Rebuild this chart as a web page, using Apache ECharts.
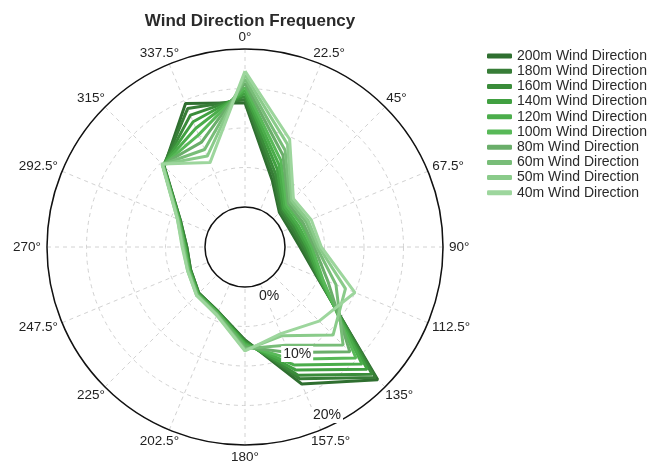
<!DOCTYPE html>
<html><head><meta charset="utf-8">
<script src="https://cdn.jsdelivr.net/npm/echarts@6/dist/echarts.min.js"></script>
<style>html,body{margin:0;padding:0;background:#fff}#c{width:653px;height:468px}</style>
</head><body><div id="c"></div>
<script>
// compass directions (degrees, clockwise from north)
const directions = [0, 22.5, 45, 67.5, 90, 112.5, 135, 157.5, 180, 202.5, 225, 247.5, 270, 292.5, 315, 337.5];
const directionLabels = ['0°', '22.5°', '45°', '67.5°', '90°', '112.5°', '135°', '157.5°', '180°', '202.5°', '225°', '247.5°', '270°', '292.5°', '315°', '337.5°'];
const seriesNames = ['200m Wind Direction', '180m Wind Direction', '160m Wind Direction', '140m Wind Direction',
  '120m Wind Direction', '100m Wind Direction', '80m Wind Direction', '60m Wind Direction',
  '50m Wind Direction', '40m Wind Direction'];
// frequency (%) per direction
const s200 = [13.2, 4.0, 1.1, 1.0, 1.9, 4.8, 18.7, 13.7, 6.7, 3.8, 3.2, 2.4, 2.3, 3.8, 9.4, 14.6];
const s180 = [13.6, 4.5, 1.3, 1.3, 2.2, 4.9, 18.3, 13.0, 6.8, 3.8, 3.2, 2.4, 2.3, 3.8, 9.5, 13.9];
const s160 = [14.0, 5.0, 1.6, 1.6, 2.5, 5.0, 17.7, 12.5, 6.9, 3.9, 3.3, 2.5, 2.4, 3.9, 9.5, 13.0];
const s140 = [14.4, 5.6, 1.8, 1.9, 2.8, 5.1, 16.8, 11.8, 7.1, 3.9, 3.3, 2.5, 2.5, 3.9, 9.6, 12.1];
const s120 = [14.8, 6.2, 2.1, 2.2, 3.1, 5.3, 15.9, 11.1, 7.2, 4.0, 3.4, 2.6, 2.5, 4.0, 9.6, 11.2];
const s100 = [15.2, 6.8, 2.4, 2.6, 3.4, 5.6, 14.8, 10.3, 7.4, 4.0, 3.4, 2.6, 2.6, 4.0, 9.6, 10.3];
const s80  = [15.7, 7.5, 2.7, 2.9, 3.7, 6.3, 13.7, 9.4, 7.6, 4.1, 3.5, 2.7, 2.7, 4.1, 9.7, 9.3];
const s60  = [16.2, 8.2, 3.0, 3.3, 4.0, 7.4, 12.5, 8.4, 7.8, 4.2, 3.5, 2.7, 2.7, 4.1, 9.7, 8.3];
const s50  = [16.7, 9.0, 3.3, 3.6, 4.3, 8.7, 10.7, 7.1, 8.0, 4.2, 3.6, 2.8, 2.8, 4.2, 9.7, 7.4];
const s40  = [17.2, 9.7, 3.6, 4.0, 4.6, 10.0, 8.2, 6.8, 8.1, 4.3, 3.6, 2.8, 2.9, 4.2, 9.8, 6.5];
const radiusTicks = [0, 10, 20];
const radiusTickLabels = ['0%', '10%', '20%'];

const allSeries = [s200, s180, s160, s140, s120, s100, s80, s60, s50, s40];
const colors = ['#2f6f30', '#377d37', '#3a8c3a', '#41a041', '#4bad4b', '#58b958', '#6aae6a', '#78bd78', '#8acb8a', '#9dd69d'];
const labelAngle = 154;
const labelShift = [15, 0, -11]; // px along the ray, keeps the boxes inside the ring

const FONT = 'Liberation Sans, Arial, sans-serif';
const ANGLE_FONT_SIZE = 13.5;
const chart = echarts.init(document.getElementById('c'), null, {renderer: 'canvas'});

const lineSeries = allSeries.map((vals, k) => {
  const pts = vals.map((v, i) => [v, directions[i]]);
  pts.push([vals[0], 360]);
  return {
    type: 'line', name: seriesNames[k], coordinateSystem: 'polar', polarIndex: 0,
    data: pts, symbol: 'none', smooth: false,
    lineStyle: {width: 3, color: colors[k]}, itemStyle: {color: colors[k]},
    emphasis: {disabled: true}, z: 2
  };
});

const rad = labelAngle * Math.PI / 180;
const radiusLabelSeries = {
  type: 'scatter', coordinateSystem: 'polar', polarIndex: 0, silent: true,
  symbolSize: 0, z: 20, itemStyle: {opacity: 1},
  data: radiusTicks.map((t, i) => ({
    value: [t, labelAngle],
    label: {offset: [labelShift[i] * Math.sin(rad), -labelShift[i] * Math.cos(rad)]}
  })),
  label: {
    show: true, position: 'inside', formatter: p => radiusTickLabels[p.dataIndex], opacity: 1,
    backgroundColor: '#fff', padding: [1, 2], fontSize: 14, color: '#222', fontFamily: FONT
  }
};

// angle labels: boxes pushed outward from a ring so that their inner edge sits near it
const ctx = document.createElement('canvas').getContext('2d');
ctx.font = ANGLE_FONT_SIZE + 'px "Liberation Sans"';
const angleLabelSeries = {
  type: 'scatter', coordinateSystem: 'polar', polarIndex: 1, silent: true,
  symbolSize: 0, z: 20, itemStyle: {opacity: 1},
  data: directions.map((d, i) => {
    const w = ctx.measureText(directionLabels[i]).width;
    const h = 12;
    const a = d * Math.PI / 180;
    return {value: [1, d], label: {offset: [w / 2 * Math.sin(a), -h / 2 * Math.cos(a)]}};
  }),
  label: {
    show: true, position: 'inside', formatter: p => directionLabels[p.dataIndex], opacity: 1,
    fontSize: ANGLE_FONT_SIZE, color: '#222', fontFamily: FONT
  }
};

chart.setOption({
  animation: false,
  backgroundColor: '#fff',
  title: {
    text: 'Wind Direction Frequency', left: 245, top: 8, textAlign: 'center',
    textStyle: {fontSize: 17, fontWeight: 'bold', color: '#2a2a2a', fontFamily: FONT}
  },
  legend: {
    data: seriesNames, orient: 'vertical', left: 482, top: 44,
    itemWidth: 25, itemHeight: 5, itemGap: 1.2, icon: 'roundRect',
    textStyle: {fontSize: 14, lineHeight: 14, color: '#2a2a2a', fontFamily: FONT},
    selectedMode: false
  },
  polar: [
    {center: [245, 247], radius: [40, 198]},
    {center: [245, 247], radius: [0, 204]}
  ],
  angleAxis: [{
    polarIndex: 0, type: 'value', min: 0, max: 360, interval: 22.5, startAngle: 90, clockwise: true,
    axisLine: {show: true, lineStyle: {color: '#111', width: 1.5}},
    axisTick: {show: false},
    axisLabel: {show: false},
    splitLine: {show: true, lineStyle: {color: '#d2d2d2', type: [4, 4], width: 1}}
  }, {
    polarIndex: 1, type: 'value', min: 0, max: 360, startAngle: 90, clockwise: true, show: false
  }],
  radiusAxis: [{
    polarIndex: 0, type: 'value', min: 0, max: 20, interval: 5,
    axisLine: {show: false}, axisTick: {show: false}, axisLabel: {show: false},
    splitLine: {show: true, lineStyle: {color: '#d2d2d2', type: [4, 4], width: 1}}
  }, {
    polarIndex: 1, type: 'value', min: 0, max: 1, show: false
  }],
  series: lineSeries.concat([radiusLabelSeries, angleLabelSeries])
});
</script></body></html>
